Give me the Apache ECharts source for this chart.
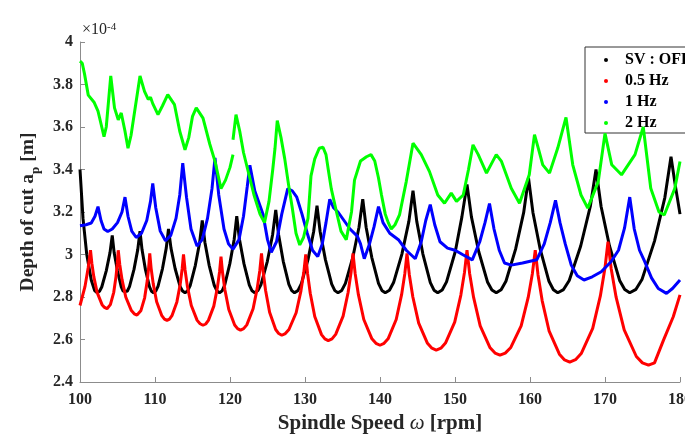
<!DOCTYPE html>
<html>
<head>
<meta charset="utf-8">
<script src="https://cdn.jsdelivr.net/npm/echarts@6/dist/echarts.min.js"></script>
<style>
html,body{margin:0;padding:0;background:#fff;overflow:hidden;width:685px;height:434px;}
#chart{width:720px;height:434px;}
</style>
</head>
<body>
<div id="chart"></div>
<script>
// Values in units of 1e-4 m; x in rpm
const seriesNames = ['SV : OFF', '0.5 Hz', '1 Hz', '2 Hz'];
const xTicks = [100, 110, 120, 130, 140, 150, 160, 170, 180];
const yTicks = [2.4, 2.6, 2.8, 3, 3.2, 3.4, 3.6, 3.8, 4];

const svOff = [
[100,3.40],[100.4,3.17],[100.9,3.00],[101.5,2.88],[101.95,2.83],[102.3,2.82],[102.6,2.827],
[102.9,2.847],[103.5,2.923],[104.0,3.009],[104.3,3.09],
[104.55,3.009],[105.0,2.923],[105.5,2.847],[105.75,2.827],[106.0,2.82],[106.3,2.827],
[106.6,2.849],[107.2,2.93],[107.7,3.023],[108.0,3.11],
[108.27,3.023],[108.72,2.93],[109.26,2.849],[109.53,2.827],[109.8,2.82],[110.1,2.828],
[110.4,2.85],[111.0,2.934],[111.5,3.03],[111.8,3.12],
[112.13,3.03],[112.68,2.934],[113.34,2.85],[113.67,2.828],[114.0,2.82],[114.35,2.829],
[114.69,2.854],[115.38,2.949],[115.96,3.058],[116.3,3.16],
[116.65,3.058],[117.22,2.949],[117.91,2.854],[118.26,2.829],[118.6,2.82],[118.95,2.829],
[119.29,2.856],[119.98,2.957],[120.56,3.072],[120.9,3.18],
[121.26,3.072],[121.86,2.957],[122.58,2.856],[122.94,2.829],[123.3,2.82],[123.72,2.83],
[124.14,2.859],[124.98,2.968],[125.68,3.093],[126.1,3.21],
[126.48,3.093],[127.1,2.968],[127.85,2.859],[128.23,2.83],[128.6,2.82],[129.05,2.83],
[129.5,2.861],[130.4,2.976],[131.15,3.107],[131.6,3.23],
[132.02,3.107],[132.72,2.976],[133.56,2.861],[133.98,2.83],[134.4,2.82],[134.9,2.831],
[135.39,2.864],[136.38,2.987],[137.2,3.128],[137.7,3.26],
[138.15,3.128],[138.9,2.987],[139.8,2.864],[140.25,2.831],[140.7,2.82],[141.26,2.832],
[141.81,2.868],[142.92,3.002],[143.85,3.156],[144.4,3.30],
[144.9,3.156],[145.72,3.002],[146.71,2.868],[147.2,2.832],[147.7,2.82],[148.29,2.833],
[148.87,2.871],[150.04,3.014],[150.92,3.177],[151.6,3.33],
[152.19,3.177],[153.16,3.014],[154.33,2.871],[154.92,2.833],[155.5,2.82],[156.15,2.834],
[156.79,2.874],[158.08,3.025],[159.16,3.198],[159.8,3.36],
[160.39,3.198],[161.36,3.025],[162.53,2.874],[163.12,2.834],[163.7,2.82],[164.47,2.835],
[165.23,2.878],[166.76,3.04],[168.04,3.226],[168.8,3.40],
[169.48,3.226],[170.6,3.04],[171.95,2.878],[172.63,2.835],[173.3,2.82],[174.13,2.836],
[174.95,2.884],[176.6,3.063],[177.98,3.268],[178.8,3.46],
[179.35,3.33],[180,3.19]
];

const hz05 = [
[100,2.76],[100.67,2.85],[101.1,2.94],[101.4,3.02],
[101.58,2.959],[101.84,2.896],[102.28,2.822],[102.94,2.764],[103.27,2.751],[103.6,2.745],[103.83,2.751],
[104.05,2.764],[104.5,2.822],[104.8,2.896],[104.98,2.959],[105.1,3.02],
[105.3,2.953],[105.6,2.883],[106.1,2.80],[106.85,2.736],[107.23,2.721],[107.6,2.715],[107.86,2.721],
[108.11,2.735],[108.62,2.796],[108.96,2.875],[109.16,2.941],[109.3,3.005],
[109.48,2.936],[109.76,2.863],[110.22,2.778],[110.91,2.712],[111.26,2.696],[111.6,2.69],[111.93,2.696],
[112.26,2.712],[112.92,2.777],[113.36,2.86],[113.62,2.932],[113.8,3.0],
[114.01,2.927],[114.32,2.85],[114.84,2.76],[115.62,2.69],[116.01,2.674],[116.4,2.667],[116.76,2.673],
[117.12,2.69],[117.84,2.757],[118.32,2.845],[118.61,2.919],[118.8,2.99],
[119.01,2.914],[119.32,2.834],[119.84,2.741],[120.62,2.668],[121.01,2.651],[121.4,2.644],[121.82,2.651],
[122.24,2.669],[123.08,2.745],[123.64,2.843],[123.98,2.926],[124.2,3.005],
[124.42,2.92],[124.74,2.832],[125.28,2.728],[126.09,2.647],[126.5,2.628],[126.9,2.62],[127.38,2.628],
[127.86,2.647],[128.82,2.726],[129.46,2.829],[129.84,2.916],[130.1,3.0],
[130.34,2.911],[130.7,2.818],[131.3,2.708],[132.2,2.623],[132.65,2.603],[133.1,2.595],[133.6,2.603],
[134.09,2.624],[135.08,2.71],[135.74,2.82],[136.14,2.915],[136.4,3.005],
[136.69,2.91],[137.12,2.811],[137.84,2.694],[138.92,2.603],[139.46,2.582],[140.0,2.573],[140.54,2.582],
[141.08,2.603],[142.16,2.694],[142.88,2.811],[143.31,2.91],[143.6,3.005],
[143.91,2.905],[144.38,2.80],[145.16,2.677],[146.33,2.582],[146.92,2.559],[147.5,2.55],[148.12,2.559],
[148.73,2.583],[149.96,2.682],[150.78,2.809],[151.27,2.917],[151.6,3.02],
[151.95,2.911],[152.48,2.798],[153.36,2.664],[154.68,2.561],[155.34,2.536],[156.0,2.526],[156.7,2.536],
[157.41,2.561],[158.82,2.664],[159.76,2.798],[160.32,2.911],[160.7,3.02],
[161.07,2.904],[161.62,2.783],[162.54,2.641],[163.92,2.531],[164.61,2.504],[165.3,2.494],[166.07,2.505],
[166.83,2.534],[168.36,2.652],[169.38,2.805],[169.99,2.935],[170.4,3.06],
[170.83,2.932],[171.48,2.799],[172.56,2.645],[174.18,2.52],[174.99,2.49],[175.8,2.479],
[176.6,2.49],[177.8,2.597],[179.1,2.707],[180,2.81]
];

const hz1 = [
[100,3.135],[100.8,3.14],[101.5,3.148],[102.0,3.18],[102.4,3.225],[102.8,3.16],
[103.2,3.12],[103.7,3.108],[104.3,3.12],[105.0,3.15],[105.6,3.20],[106.0,3.27],
[106.4,3.18],[106.9,3.11],[107.5,3.08],[108.2,3.10],[108.9,3.16],[109.4,3.25],
[109.7,3.335],[110.1,3.22],[110.7,3.11],[111.4,3.065],[112.1,3.09],[112.8,3.17],
[113.3,3.28],[113.7,3.43],[114.2,3.27],[114.8,3.12],[115.6,3.04],[116.3,3.07],
[117.0,3.17],[117.6,3.31],[118.0,3.455],[118.5,3.28],[119.2,3.12],[119.8,3.05],
[120.4,3.025],[121.2,3.07],[121.8,3.18],[122.3,3.32],[122.65,3.42],[123.3,3.30],
[124.4,3.19],[125.0,3.07],[125.5,3.01],[126.2,3.06],[126.9,3.19],[127.7,3.31],
[128.3,3.30],[128.9,3.27],[129.6,3.19],[130.3,3.10],[131.0,3.02],[131.7,2.99],
[132.3,3.05],[132.8,3.15],[133.3,3.26],[133.8,3.22],[134.4,3.20],[135.2,3.16],
[136.0,3.12],[137.0,3.085],[137.4,3.05],[137.9,2.98],[138.6,3.05],[139.2,3.13],
[139.8,3.225],[140.4,3.15],[141.3,3.10],[142.5,3.068],[143.5,3.02],[144.7,2.98],
[145.5,3.06],[146.1,3.16],[146.7,3.235],[147.3,3.14],[148.0,3.06],[149.0,3.03],
[150.0,3.02],[151.0,3.00],[152.3,2.975],[153.3,3.06],[154.0,3.15],[154.6,3.24],
[155.2,3.12],[155.9,3.02],[156.6,2.96],[157.5,2.95],[159.0,2.96],[160.9,2.975],
[161.9,3.05],[162.7,3.15],[163.4,3.255],[164.0,3.15],[164.7,3.05],[165.5,2.95],
[166.3,2.90],[167.2,2.88],[168.3,2.895],[169.5,2.919],[170.8,2.966],[171.8,3.02],
[172.6,3.124],[173.3,3.27],[173.9,3.12],[174.6,3.02],[175.3,2.966],[176.2,2.89],
[177.1,2.84],[178.2,2.817],[179.0,2.84],[180,2.88]
];

const hz2 = [
[100,3.91],[100.3,3.90],[100.6,3.85],[101.1,3.75],[101.9,3.715],[102.4,3.675],
[102.9,3.60],[103.2,3.555],[103.5,3.60],[103.8,3.72],[104.1,3.84],[104.6,3.69],
[105.1,3.634],[105.5,3.666],[106.0,3.58],[106.4,3.50],[106.8,3.56],[107.4,3.70],
[108.0,3.84],[108.6,3.768],[109.1,3.73],[109.4,3.74],[109.7,3.71],[110.4,3.658],
[111.0,3.70],[111.7,3.752],[112.6,3.705],[113.3,3.58],[114.0,3.493],[114.5,3.55],
[115.0,3.65],[115.5,3.69],[116.4,3.642],[117.3,3.52],[118.0,3.438],[118.8,3.31],
[119.4,3.35],[120.0,3.41],[120.4,3.47],
null,
[120.4,3.54],[120.8,3.658],[121.3,3.58],[121.8,3.48],[122.5,3.38],[123.2,3.28],
[124.0,3.19],[124.6,3.15],[125.2,3.25],[125.7,3.40],[126.0,3.50],[126.3,3.63],
[126.8,3.55],[127.3,3.45],[127.8,3.33],[128.3,3.22],[128.8,3.10],[129.3,3.045],
[129.8,3.08],[130.4,3.17],[130.8,3.37],[131.3,3.45],[131.9,3.50],[132.4,3.505],
[132.8,3.47],[133.1,3.40],[133.5,3.31],[134.2,3.20],[134.8,3.11],[135.5,3.07],
[136.2,3.20],[136.6,3.35],[137.4,3.44],[138.2,3.46],[138.8,3.47],[139.3,3.44],
[139.8,3.36],[140.2,3.28],[140.7,3.19],[141.1,3.15],[141.5,3.12],[142.0,3.14],
[142.6,3.186],[143.5,3.343],[144.4,3.524],[145.5,3.47],[146.6,3.39],[147.7,3.28],
[148.6,3.241],[149.5,3.289],[150.2,3.25],[151.1,3.28],[151.8,3.40],[152.4,3.516],
[153.1,3.47],[154.2,3.383],[155.5,3.47],[156.2,3.438],[157.5,3.312],[158.6,3.241],
[159.9,3.375],[160.6,3.564],[161.1,3.501],[161.7,3.422],[162.6,3.383],[163.7,3.501],
[164.8,3.645],[165.7,3.422],[166.8,3.28],[167.7,3.218],[169.1,3.343],[170.0,3.57],
[170.9,3.422],[172.2,3.375],[174.0,3.47],[175.1,3.60],[176.1,3.312],[177.2,3.20],
[177.9,3.186],[179.3,3.31],[180,3.438]
];

const colors = ['#000000', '#ff0000', '#0000ff', '#00ff00'];
const serif = '"Liberation Serif", "Times New Roman", serif';

const chart = echarts.init(document.getElementById('chart'), null, {renderer: 'canvas'});
const dataSets = [svOff, hz05, hz1, hz2];

chart.setOption({
  animation: false,
  backgroundColor: '#ffffff',
  grid: {left: 80, right: 40, top: 42, bottom: 52, containLabel: false, outerBoundsMode: 'none'},
  xAxis: {
    type: 'value', min: xTicks[0], max: xTicks[xTicks.length - 1], interval: 10,
    name: 'Spindle Speed {w|ω} [rpm]',
    nameLocation: 'middle', nameGap: 30,
    nameTextStyle: {
      fontFamily: serif, fontSize: 21, fontWeight: 'bold', color: '#262626',
      rich: {w: {fontFamily: serif, fontSize: 21, fontStyle: 'italic', fontWeight: 'normal', color: '#262626'}}
    },
    axisLine: {show: true, lineStyle: {color: '#8c8c8c', width: 1}},
    axisTick: {show: true, inside: true, length: 5, lineStyle: {color: '#8c8c8c'}},
    axisLabel: {fontFamily: serif, fontSize: 16, fontWeight: 'bold', color: '#262626', margin: 10},
    splitLine: {show: false}
  },
  yAxis: {
    type: 'value', min: yTicks[0], max: yTicks[yTicks.length - 1], interval: 0.2,
    name: 'Depth of cut a{sub|p} [m]',
    nameLocation: 'middle', nameGap: 38, nameRotate: 90,
    nameTextStyle: {
      fontFamily: serif, fontSize: 19.5, fontWeight: 'bold', color: '#262626',
      rich: {
        sub: {fontFamily: serif, fontSize: 13, fontWeight: 'bold', color: '#262626', verticalAlign: 'bottom', lineHeight: 28}
      }
    },
    axisLine: {show: true, lineStyle: {color: '#8c8c8c', width: 1}},
    axisTick: {show: true, inside: true, length: 5, lineStyle: {color: '#8c8c8c'}},
    axisLabel: {fontFamily: serif, fontSize: 16, fontWeight: 'bold', color: '#262626', margin: 7},
    splitLine: {show: false}
  },
  legend: {
    orient: 'vertical', left: 585, top: 47,
    data: seriesNames.map(function (n) { return {name: n, icon: 'circle'}; }),
    itemWidth: 4, itemHeight: 4, itemGap: 5,
    padding: [5, 12, 2, 19],
    borderColor: '#333333', borderWidth: 1, backgroundColor: '#ffffff',
    textStyle: {fontFamily: serif, fontSize: 16, fontWeight: 'bold', color: '#000000', padding: [0, 0, 0, 12]}
  },
  graphic: [{
    type: 'text', left: 82, top: 22,
    style: {
      text: '×10{s|-4}',
      font: '16px ' + serif, fill: '#262626',
      rich: {s: {fontFamily: serif, fontSize: 11, fill: '#262626', verticalAlign: 'top', lineHeight: 16}}
    }
  }],
  series: dataSets.map(function (d, i) {
    return {
      name: seriesNames[i], type: 'line', data: d,
      showSymbol: false, symbol: 'none', connectNulls: false,
      lineStyle: {color: colors[i], width: 3},
      itemStyle: {color: colors[i]},
      z: 2 + i
    };
  })
});
</script>
</body>
</html>
